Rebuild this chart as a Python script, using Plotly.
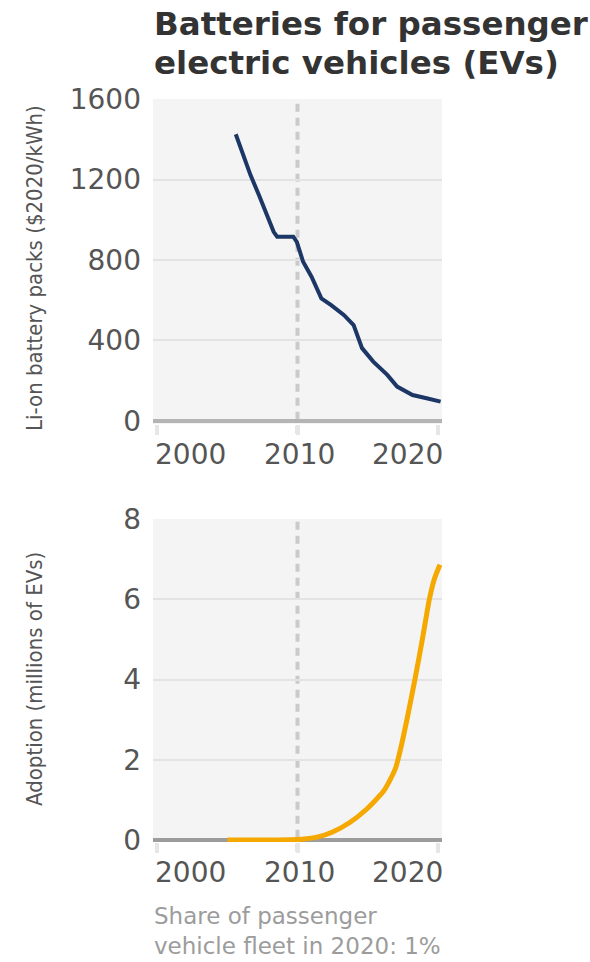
import plotly.graph_objects as go

# ---- data ----
price_years = [2005.6, 2005.95, 2006.65, 2007.25, 2007.95, 2008.3, 2008.55, 2009.7, 2009.95,
               2010.4, 2011.0, 2011.7, 2012.4, 2013.3, 2014.0, 2014.6, 2015.4, 2016.4,
               2017.1, 2018.2, 2019.2, 2020.2]
price_values = [1425, 1355, 1222, 1123, 1007, 940, 916, 916, 890,
                791, 717, 609, 576, 527, 477, 362, 295, 229,
                171, 129, 113, 96]

adopt_years = [2005.0, 2008.0, 2009.5, 2010.3, 2011.4, 2012.5, 2013.7, 2014.9, 2016.1,
               2016.6, 2017.0, 2017.4, 2017.8, 2018.37, 2018.9, 2019.4, 2019.75, 2020.15]
adopt_values = [0, 0, 0.005, 0.02, 0.07, 0.2, 0.43, 0.76, 1.2,
                1.5, 1.8, 2.35, 3.0, 4.0, 5.0, 6.0, 6.5, 6.86]

x_tick_vals = [2000, 2010, 2020]
x_tick_text = ["2000", "2010", "2020"]
price_ticks = [0, 400, 800, 1200, 1600]
adopt_ticks = [0, 2, 4, 6, 8]

title_lines = ["Batteries for passenger", "electric vehicles (EVs)"]
price_axis_title = "Li-on battery packs ($2020/kWh)"
adopt_axis_title = "Adoption (millions of EVs)"
footer_text = "Share of passenger<br>vehicle fleet in 2020: 1%"

# ---- figure ----
W, H = 590, 962
def py(px):
    return 1 - px / H

xdom = [153 / W, 442 / W]
tick_font = dict(family="DejaVu Sans", size=28, color="#555555")
cond = "DejaVu Sans Condensed, DejaVu Sans, sans-serif"

fig = go.Figure()
fig.add_trace(go.Scatter(x=price_years, y=price_values, mode="lines",
                         line=dict(color="#1c3766", width=4),
                         xaxis="x", yaxis="y", showlegend=False))
fig.add_trace(go.Scatter(x=adopt_years, y=adopt_values, mode="lines",
                         line=dict(color="#f5a800", width=5, shape="spline", smoothing=0.6),
                         xaxis="x2", yaxis="y2", showlegend=False))

xcommon = dict(range=[1999.7, 2020.3], showgrid=False, zeroline=False, showline=False,
               tickvals=x_tick_vals, ticks="outside", ticklen=10, tickwidth=4,
               tickcolor="#e6e6e6", showticklabels=False, domain=xdom, fixedrange=True,
               automargin=False)
ycommon = dict(showgrid=True, gridcolor="#e3e3e3", gridwidth=2, showline=False,
               zeroline=True, zerolinewidth=4, ticks="", tickfont=tick_font,
               ticklabelstandoff=11, fixedrange=True, automargin=False)

fig.update_layout(
    width=W, height=H, autosize=False,
    margin=dict(l=0, r=0, t=0, b=0, pad=0),
    paper_bgcolor="white", plot_bgcolor="#f4f4f4",
    xaxis=dict(**xcommon, anchor="y"),
    yaxis=dict(**ycommon, range=[-15, 1600], tickvals=price_ticks,
               domain=[py(424), py(99)], anchor="x", zerolinecolor="#b4b4b4"),
    xaxis2=dict(**xcommon, anchor="y2"),
    yaxis2=dict(**ycommon, range=[-0.05, 8], tickvals=adopt_ticks,
                domain=[py(842), py(519)], anchor="x2", zerolinecolor="#9c9c9c"),
)

# dashed 2010 reference lines
for xr, yr in (("x", "y domain"), ("x2", "y2 domain")):
    fig.add_shape(type="line", xref=xr, yref=yr, x0=2010, x1=2010, y0=-0.03, y1=1,
                  line=dict(color="#cacaca", width=4, dash="8px,6px"), layer="below")

# x tick labels
anchors = ["left", "center", "right"]
shifts = [-4, 2, 7]
for xr, ypos in (("x", py(454)), ("x2", py(872))):
    for v, t, a, s in zip(x_tick_vals, x_tick_text, anchors, shifts):
        fig.add_annotation(x=v, y=ypos, xref=xr, yref="paper", text=t, showarrow=False,
                           xanchor=a, yanchor="middle", xshift=s, font=tick_font)

# title (two lines, controlled spacing)
for line, ycen in zip(title_lines, (24, 63)):
    fig.add_annotation(x=152 / W, y=py(ycen), xref="paper", yref="paper", text=line,
                       showarrow=False, xanchor="left", yanchor="middle", align="left",
                       font=dict(family="DejaVu Sans", size=32.5, color="#333333", weight="bold"))

# y-axis titles
fig.add_annotation(x=34 / W, y=py(268), xref="paper", yref="paper", text=price_axis_title,
                   showarrow=False, textangle=-90, xanchor="center", yanchor="middle",
                   font=dict(family=cond, size=22, color="#555555"))
fig.add_annotation(x=34 / W, y=py(679), xref="paper", yref="paper", text=adopt_axis_title,
                   showarrow=False, textangle=-90, xanchor="center", yanchor="middle",
                   font=dict(family=cond, size=22, color="#555555"))

# footer
fig.add_annotation(x=152 / W, y=py(901), xref="paper", yref="paper", text=footer_text,
                   showarrow=False, xanchor="left", yanchor="top", align="left",
                   font=dict(family="DejaVu Sans", size=23, color="#9c9c9c"))

fig.write_html("out.html", config={"displayModeBar": False},
               post_script="document.body.style.margin='0';")
